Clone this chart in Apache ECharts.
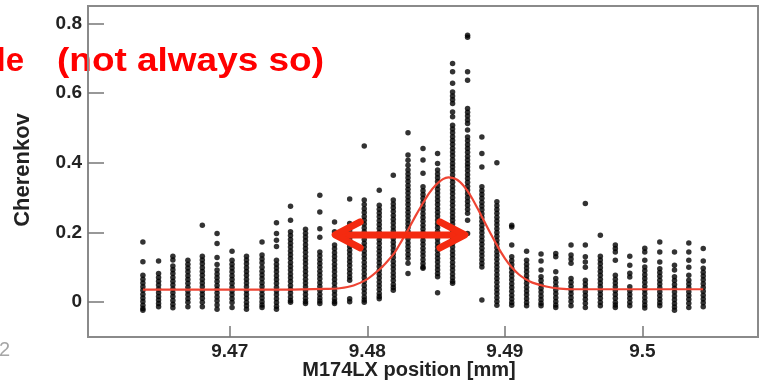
<!DOCTYPE html>
<html><head><meta charset="utf-8">
<script src="https://cdn.jsdelivr.net/npm/echarts@6/dist/echarts.min.js"></script>
<style>html,body{margin:0;padding:0;background:#fff}#c{width:769px;height:389px}</style>
</head><body><div id="c"></div>
<script>
// Column positions (mm)
const colX = [9.46369,9.46483,9.46587,9.46696,9.46801,9.46908,9.47017,9.47122,9.47235,9.47340,
  9.47442,9.47551,9.47655,9.47762,9.47872,9.47978,9.48087,9.48189,9.48296,9.48405,
  9.48511,9.48620,9.48729,9.48833,9.48942,9.49050,9.49158,9.49263,9.49370,9.49481,
  9.49585,9.49694,9.49803,9.49908,9.50017,9.50126,9.50233,9.50337,9.50442];
// Cherenkov values per column
const c1 = [0.173,0.116,0.077,0.066,0.055,0.044,0.034,0.023,0.012,0.002,-0.009,-0.018,-0.023];
const c2 = [0.118,0.082,0.071,0.060,0.049,0.038,0.027,0.016,0.006,-0.004,-0.013];
const c3 = [0.132,0.121,0.104,0.093,0.082,0.071,0.060,0.049,0.038,0.027,0.016,0.005,-0.006,-0.016];
const c4 = [0.120,0.109,0.098,0.087,0.076,0.065,0.054,0.043,0.032,0.021,0.010,0.000,-0.013];
const c5 = [0.221,0.132,0.121,0.110,0.099,0.088,0.077,0.066,0.055,0.044,0.033,0.022,0.011,0.000,-0.013];
const c6 = [0.197,0.168,0.128,0.108,0.092,0.081,0.070,0.059,0.048,0.037,0.026,0.015,0.004,-0.008,-0.020];
const c7 = [0.146,0.120,0.109,0.098,0.087,0.076,0.065,0.054,0.043,0.032,0.021,0.010,-0.001,-0.015];
const c8 = [0.132,0.121,0.110,0.099,0.088,0.077,0.066,0.055,0.044,0.033,0.022,0.011,0.000,-0.010,-0.020];
const c9 = [0.173,0.135,0.124,0.113,0.100,0.089,0.078,0.067,0.056,0.045,0.034,0.023,0.012,0.001,-0.008,-0.015];
const c10 = [0.228,0.197,0.178,0.160,0.120,0.109,0.098,0.087,0.076,0.065,0.054,0.043,0.032,0.021,0.010,-0.001,-0.012,-0.020];
const c11 = [0.275,0.235,0.202,0.191,0.180,0.169,0.158,0.147,0.136,0.125,0.114,0.103,0.092,0.081,0.070,0.059,0.048,0.037,0.026,0.015,0.005,0.000];
const c12 = [0.209,0.198,0.187,0.176,0.165,0.154,0.143,0.132,0.121,0.110,0.099,0.088,0.077,0.066,0.055,0.044,0.033,0.022,0.011,0.002,-0.004];
const c13 = [0.307,0.259,0.211,0.186,0.144,0.133,0.122,0.111,0.100,0.089,0.078,0.067,0.056,0.045,0.034,0.023,0.012,0.003,-0.004];
const c14 = [0.230,0.202,0.164,0.153,0.142,0.131,0.120,0.109,0.098,0.087,0.076,0.065,0.054,0.043,0.032,0.021,0.010,0.001,-0.004];
const c15 = [0.296,0.226,0.215,0.204,0.193,0.182,0.171,0.160,0.149,0.138,0.127,0.116,0.105,0.094,0.083,0.072,0.063,0.010,0.001];
const c16 = [0.448,0.293,0.280,0.268,0.257,0.246,0.235,0.224,0.213,0.202,0.191,0.180,0.169,0.158,0.147,0.136,0.125,0.114,0.103,0.092,0.081,0.070,0.059,0.048,0.037,0.026,0.015,0.006,0.000];
const c17 = [0.321,0.278,0.267,0.256,0.245,0.234,0.223,0.212,0.201,0.190,0.179,0.168,0.157,0.146,0.135,0.124,0.113,0.102,0.091,0.080,0.069,0.058,0.047,0.036,0.025,0.016,0.010];
const c18 = [0.364,0.293,0.282,0.271,0.260,0.249,0.238,0.227,0.216,0.205,0.194,0.183,0.172,0.161,0.150,0.139,0.128,0.117,0.106,0.095,0.084,0.073,0.062,0.051,0.042,0.034];
const c19 = [0.486,0.422,0.407,0.393,0.379,0.368,0.357,0.346,0.335,0.324,0.313,0.302,0.291,0.280,0.269,0.258,0.247,0.236,0.225,0.214,0.203,0.192,0.181,0.170,0.159,0.148,0.137,0.126,0.112,0.082];
const c20 = [0.441,0.408,0.370,0.331,0.320,0.309,0.298,0.287,0.276,0.265,0.254,0.243,0.232,0.221,0.210,0.199,0.188,0.177,0.166,0.155,0.144,0.133,0.122,0.111,0.101,0.097];
const c21 = [0.427,0.398,0.379,0.368,0.357,0.346,0.335,0.324,0.313,0.302,0.291,0.280,0.269,0.258,0.247,0.236,0.225,0.214,0.203,0.192,0.181,0.170,0.159,0.148,0.137,0.126,0.115,0.104,0.093,0.082,0.073,0.027];
const c22 = [0.685,0.661,0.628,0.603,0.592,0.581,0.570,0.546,0.532,0.508,0.497,0.486,0.475,0.464,0.453,0.442,0.431,0.420,0.409,0.398,0.388,0.377,0.366,0.355,0.344,0.333,0.322,0.311,0.300,0.289,0.278,0.267,0.256,0.245,0.235,0.224,0.213,0.202,0.191,0.180,0.169,0.158,0.147,0.136,0.125,0.114,0.103,0.092,0.081,0.070,0.060,0.054];
const c23 = [0.766,0.760,0.661,0.637,0.556,0.545,0.534,0.523,0.513,0.494,0.474,0.463,0.452,0.441,0.430,0.419,0.408,0.397,0.388,0.377,0.366,0.355,0.344,0.333,0.322,0.311,0.300,0.289,0.278,0.267,0.255,0.235,0.197];
const c24 = [0.474,0.427,0.388,0.331,0.320,0.309,0.298,0.287,0.276,0.265,0.254,0.243,0.232,0.221,0.210,0.199,0.188,0.177,0.166,0.155,0.144,0.133,0.122,0.111,0.101,0.006];
const c25 = [0.400,0.288,0.277,0.266,0.255,0.244,0.233,0.222,0.211,0.200,0.189,0.178,0.167,0.156,0.145,0.134,0.123,0.112,0.101,0.090,0.079,0.068,0.057,0.046,0.035,0.024,0.013,0.002,-0.009];
const c26 = [0.221,0.216,0.164,0.130,0.119,0.108,0.097,0.086,0.075,0.064,0.053,0.042,0.031,0.020,0.009,-0.001,-0.009];
const c27 = [0.146,0.120,0.109,0.098,0.087,0.076,0.065,0.054,0.043,0.032,0.021,0.010,-0.001,-0.010];
const c28 = [0.138,0.118,0.092,0.073,0.062,0.051,0.040,0.029,0.018,0.007,-0.003,-0.010];
const c29 = [0.140,0.130,0.087,0.068,0.057,0.046,0.035,0.024,0.013,0.002,-0.008,-0.015];
const c30 = [0.164,0.135,0.124,0.112,0.068,0.057,0.046,0.035,0.024,0.013,0.002,-0.010];
const c31 = [0.283,0.164,0.130,0.115,0.100,0.063,0.052,0.041,0.030,0.019,0.008,-0.003,-0.015];
const c32 = [0.192,0.132,0.121,0.110,0.099,0.088,0.077,0.066,0.055,0.044,0.033,0.022,0.011,0.000,-0.010];
const c33 = [0.164,0.154,0.144,0.120,0.077,0.066,0.055,0.044,0.033,0.022,0.011,0.000,-0.008,-0.015];
const c34 = [0.132,0.106,0.083,0.072,0.044,0.033,0.022,0.011,0.000,-0.010];
const c35 = [0.155,0.144,0.120,0.101,0.090,0.079,0.068,0.057,0.046,0.035,0.024,0.013,0.002,-0.008,-0.017];
const c36 = [0.173,0.144,0.115,0.096,0.085,0.074,0.063,0.052,0.041,0.030,0.019,0.008,-0.002,-0.010];
const c37 = [0.144,0.106,0.092,0.073,0.062,0.051,0.040,0.029,0.018,0.007,-0.004,-0.014,-0.023];
const c38 = [0.170,0.144,0.120,0.100,0.077,0.063,0.052,0.041,0.030,0.019,0.008,-0.003,-0.015];
const c39 = [0.154,0.118,0.097,0.086,0.075,0.064,0.053,0.042,0.031,0.020,0.009,-0.002,-0.013];
const columns = [c1,c2,c3,c4,c5,c6,c7,c8,c9,c10,c11,c12,c13,c14,c15,c16,c17,c18,c19,c20,
  c21,c22,c23,c24,c25,c26,c27,c28,c29,c30,c31,c32,c33,c34,c35,c36,c37,c38,c39];

// Fitted curve
const fitX = [9.46369,9.4740,9.4770,9.4780,9.4790,9.4800,9.4810,9.4815,9.4820,9.4825,9.4830,9.4835,9.4840,9.4845,9.4850,9.4855,9.4859,
  9.4865,9.4870,9.4875,9.4880,9.4885,9.4890,9.4895,9.4900,9.4905,9.4910,9.4915,9.4920,9.4930,9.4940,9.4950,9.50442];
const fitY = [0.036,0.036,0.038,0.040,0.048,0.066,0.098,0.119,0.143,0.176,0.210,0.247,0.281,0.313,0.337,0.353,0.358,
  0.352,0.334,0.306,0.270,0.232,0.194,0.158,0.126,0.100,0.080,0.066,0.056,0.045,0.039,0.037,0.037];

// Annotation arrow: [x start, x end, y]
const arrowSpan = [9.47752, 9.48724, 0.193];

const xTicks = [9.47, 9.48, 9.49, 9.5];
const yTicks = [0, 0.2, 0.4, 0.6, 0.8];

const points = [];
columns.forEach((col, i) => col.forEach(v => points.push([colX[i], v])));
const fitData = fitX.map((x, i) => [x, fitY[i]]);

const FONT = "'Liberation Sans', Arial, Helvetica, sans-serif";
const chart = echarts.init(document.getElementById('c'));
const arrowColor = '#f42a10';
chart.setOption({
  animation: false,
  backgroundColor: '#fff',
  grid: {left: 88, top: 6, right: 11, bottom: 52, show: true, borderColor: '#8a8a8a', borderWidth: 2, backgroundColor: 'transparent'},
  xAxis: {
    type: 'value', min: 9.4597, max: 9.5084,
    axisLine: {show: true, onZero: false, lineStyle: {color: '#8a8a8a', width: 2}},
    splitLine: {show: false},
    axisTick: {show: true, inside: true, length: 11, customValues: xTicks, lineStyle: {color: '#777', width: 1.5}},
    axisLabel: {customValues: xTicks, margin: 5, color: '#222', fontFamily: FONT, fontWeight: 'bold', fontSize: 19, formatter: v => String(v)}
  },
  yAxis: {
    type: 'value', min: -0.1, max: 0.85,
    axisLine: {show: true, onZero: false, lineStyle: {color: '#8a8a8a', width: 2}},
    splitLine: {show: false},
    axisTick: {show: true, inside: true, length: 16, customValues: yTicks, lineStyle: {color: '#777', width: 1.5}},
    axisLabel: {customValues: yTicks, margin: 6, color: '#222', fontFamily: FONT, fontWeight: 'bold', fontSize: 19, formatter: v => String(v)}
  },
  series: [
    {type: 'scatter', data: points, symbolSize: 5.5, itemStyle: {color: '#000'}, z: 2},
    {type: 'line', data: fitData, smooth: 0.3, showSymbol: false, lineStyle: {color: '#ee4433', width: 2.2}, z: 3},
    {type: 'custom', data: [arrowSpan], encode: {x: [0, 1], y: 2}, z: 5,
      renderItem: (params, api) => {
        const p1 = api.coord([api.value(0), api.value(2)]);
        const p2 = api.coord([api.value(1), api.value(2)]);
        const st = {stroke: arrowColor, lineWidth: 7, lineCap: 'round', lineJoin: 'round', fill: null};
        return {type: 'group', children: [
          {type: 'line', shape: {x1: p1[0] + 4, y1: p1[1], x2: p2[0] - 4, y2: p2[1]}, style: st},
          {type: 'polyline', shape: {points: [[p1[0] + 27, p1[1] - 13], [p1[0] + 2, p1[1]], [p1[0] + 27, p1[1] + 13]]}, style: st},
          {type: 'polyline', shape: {points: [[p2[0] - 27, p2[1] - 13], [p2[0] - 2, p2[1]], [p2[0] - 27, p2[1] + 13]]}, style: st}
        ]};
      }}
  ],
  graphic: [
    {type: 'text', x: 409, y: 370, silent: true,
      style: {text: 'M174LX position [mm]', font: "bold 20px " + FONT, fill: '#222', textAlign: 'center', textVerticalAlign: 'middle'}},
    {type: 'text', x: 23, y: 170, rotation: Math.PI / 2, silent: true,
      style: {text: 'Cherenkov', font: "bold 22px " + FONT, fill: '#222', textAlign: 'center', textVerticalAlign: 'middle'}},
    {type: 'text', x: 57, y: 62, scaleX: 1.12, silent: true,
      style: {text: '(not always so)', font: "bold 33px " + FONT, fill: '#ff0000', textAlign: 'left', textVerticalAlign: 'middle'}},
    {type: 'text', x: 24, y: 62, silent: true,
      style: {text: 'le', font: "bold 33px " + FONT, fill: '#ff0000', textAlign: 'right', textVerticalAlign: 'middle'}},
    {type: 'text', x: -1, y: 350, silent: true,
      style: {text: '2', font: "20px " + FONT, fill: '#a6a6a6', textAlign: 'left', textVerticalAlign: 'middle'}}
  ]
});
</script></body></html>
